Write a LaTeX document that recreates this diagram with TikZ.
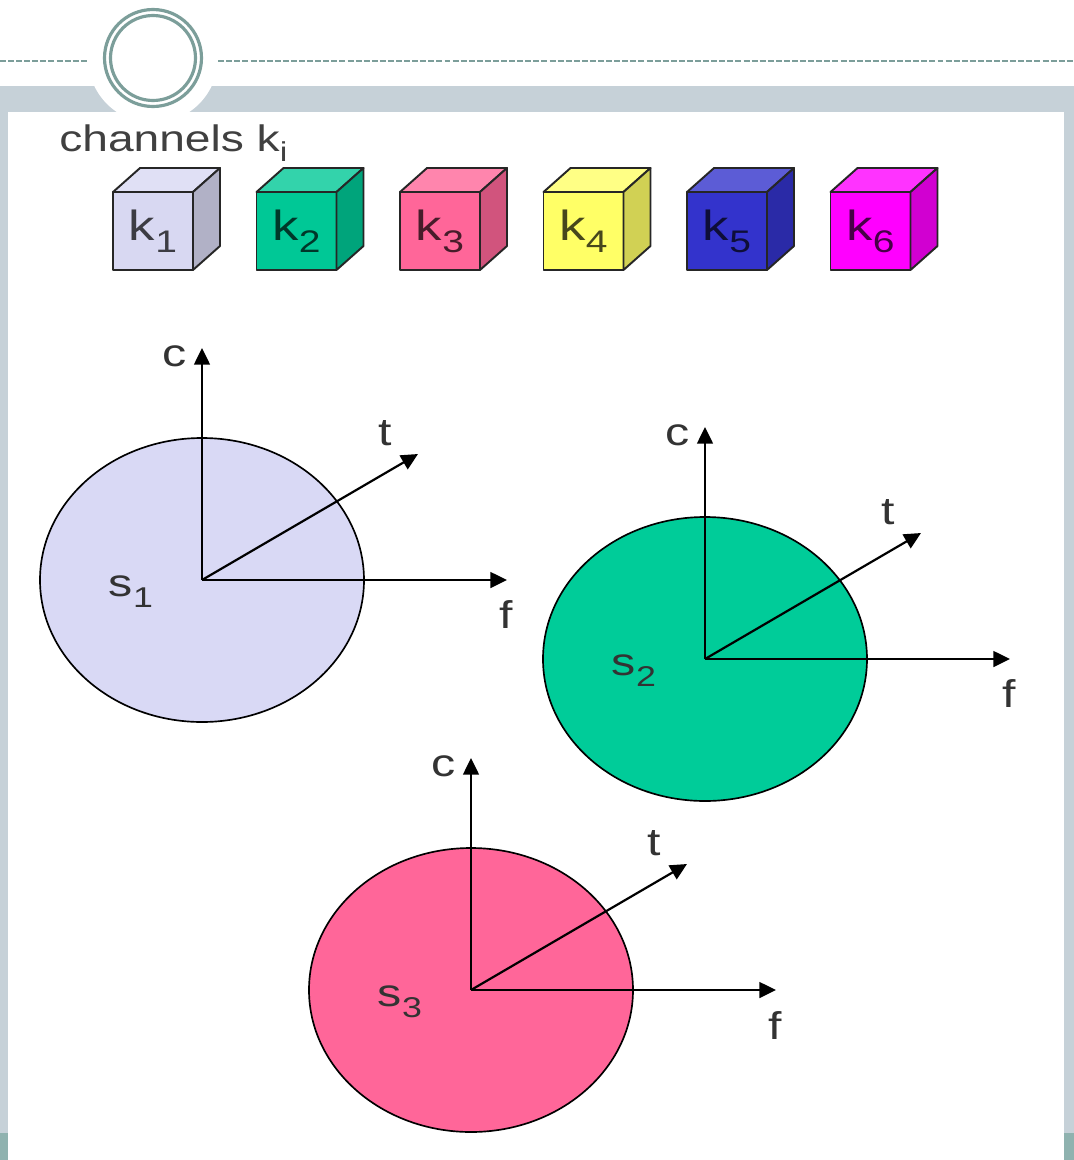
\documentclass[tikz,border=0pt]{standalone}
\usepackage{fontspec}
\setmainfont{Liberation Sans}
\newfontfamily\slidefont[FakeStretch=1.25]{Liberation Sans}
\usetikzlibrary{positioning,arrows.meta,calc}
\definecolor{band}{HTML}{C6D1D8}
\definecolor{bandfoot}{HTML}{8FB2AF}
\definecolor{ring}{HTML}{7C9E9A}
\definecolor{sOne}{HTML}{D9D9F5}
\definecolor{sTwo}{HTML}{00CC99}
\definecolor{sThree}{HTML}{FF6699}
\definecolor{kOne}{HTML}{D8D8F2}
\definecolor{kTwo}{HTML}{00C896}
\definecolor{kThree}{HTML}{FF6699}
\definecolor{kFour}{HTML}{FFFF66}
\definecolor{kFive}{HTML}{3333CC}
\definecolor{kSix}{HTML}{FF00FF}
\newcommand{\idx}[1]{\raisebox{-0.28em}{\scalebox{0.74}{#1}}}
\tikzset{
  >={Triangle[length=9.5pt,width=9pt]},
  axis/.style={->, line width=1.25pt},
  blob/.style={draw=black, line width=0.95pt},
  cube/.style={draw=black!85, line width=1.1pt, line join=round, inner sep=0pt, outer sep=0pt,
    minimum width=1.6cm, minimum height=1.56cm, text=black, text opacity=0.72,
    font=\slidefont\fontsize{24}{28}\selectfont},
  cube edge/.style={draw=black!85, line width=1.1pt, line join=round},
  axis label/.style={inner sep=0pt, text=black!80, font=\slidefont\fontsize{22}{26}\selectfont},
}

\begin{document}
\begin{tikzpicture}[x=0.02cm, y=-0.02cm]
  \useasboundingbox (0,0) rectangle (1074,1160);
  % slide frame
  \fill[band] (0,86) rectangle (1074,1160);
  \fill[bandfoot] (0,1133) rectangle (8,1160);
  \fill[bandfoot] (1064,1133) rectangle (1074,1160);
  \fill[white] (8,112) rectangle (1064,1160);
  \draw[ring, line width=0.8pt, dash pattern=on 3.4pt off 1.2pt] (0,61) -- (1074,61);
  \fill[white] (153,58) circle [radius=65];
  \draw[ring, line width=1.8pt] (153,58) circle [radius=48.5];
  \draw[ring, line width=1.8pt] (153,58) circle [radius=42.5];

  % channels
  \node[anchor=base west, inner sep=0pt, text=black!75, font=\slidefont\fontsize{21}{25}\selectfont]
    (title) at (59,151) {channels k\idx{i}};
  \foreach \n/\x/\col in {1/153/kOne, 2/296.5/kTwo, 3/440/kThree, 4/583.5/kFour, 5/727/kFive, 6/870.5/kSix} {
    \node[cube, fill=\col] (k\n) at (\x,231) {k\idx{\n}};
    \draw[cube edge, fill=\col!80!white] (k\n.north west) -- ++(27,-24) -- ++(80,0) -- (k\n.north east) -- cycle;
    \draw[cube edge, fill=\col!82!black] (k\n.north east) -- ++(27,-24) -- ++(0,78) -- (k\n.south east) -- cycle;
  }

  % spaces s_i with axes c, t, f
  \foreach \i/\x/\y/\col in {1/202/580/sOne, 2/705/659/sTwo, 3/471/990/sThree} {
    \coordinate (o\i) at (\x,\y);
    \draw[blob, fill=\col] (o\i) ellipse [x radius=162, y radius=142];
    \coordinate (c\i) at ($(o\i)+(0,-232)$);
    \coordinate (t\i) at ($(o\i)+(216,-126)$);
    \coordinate (f\i) at ($(o\i)+(305,0)$);
    \draw[axis] (o\i) -- (c\i);
    \draw[axis] (o\i) -- (t\i);
    \draw[axis] (o\i) -- (f\i);
    \node[axis label] (lc\i) at ($(o\i)+(-27,-224)$) {c};
    \node[axis label] (lt\i) at ($(o\i)+(183,-147)$) {t};
    \node[axis label] (lf\i) at ($(o\i)+(304,35)$) {f};
    \node[axis label] (ls\i) at ($(o\i)+(-71,12)$) {s\idx{\i}};
  }
\end{tikzpicture}
\end{document}
